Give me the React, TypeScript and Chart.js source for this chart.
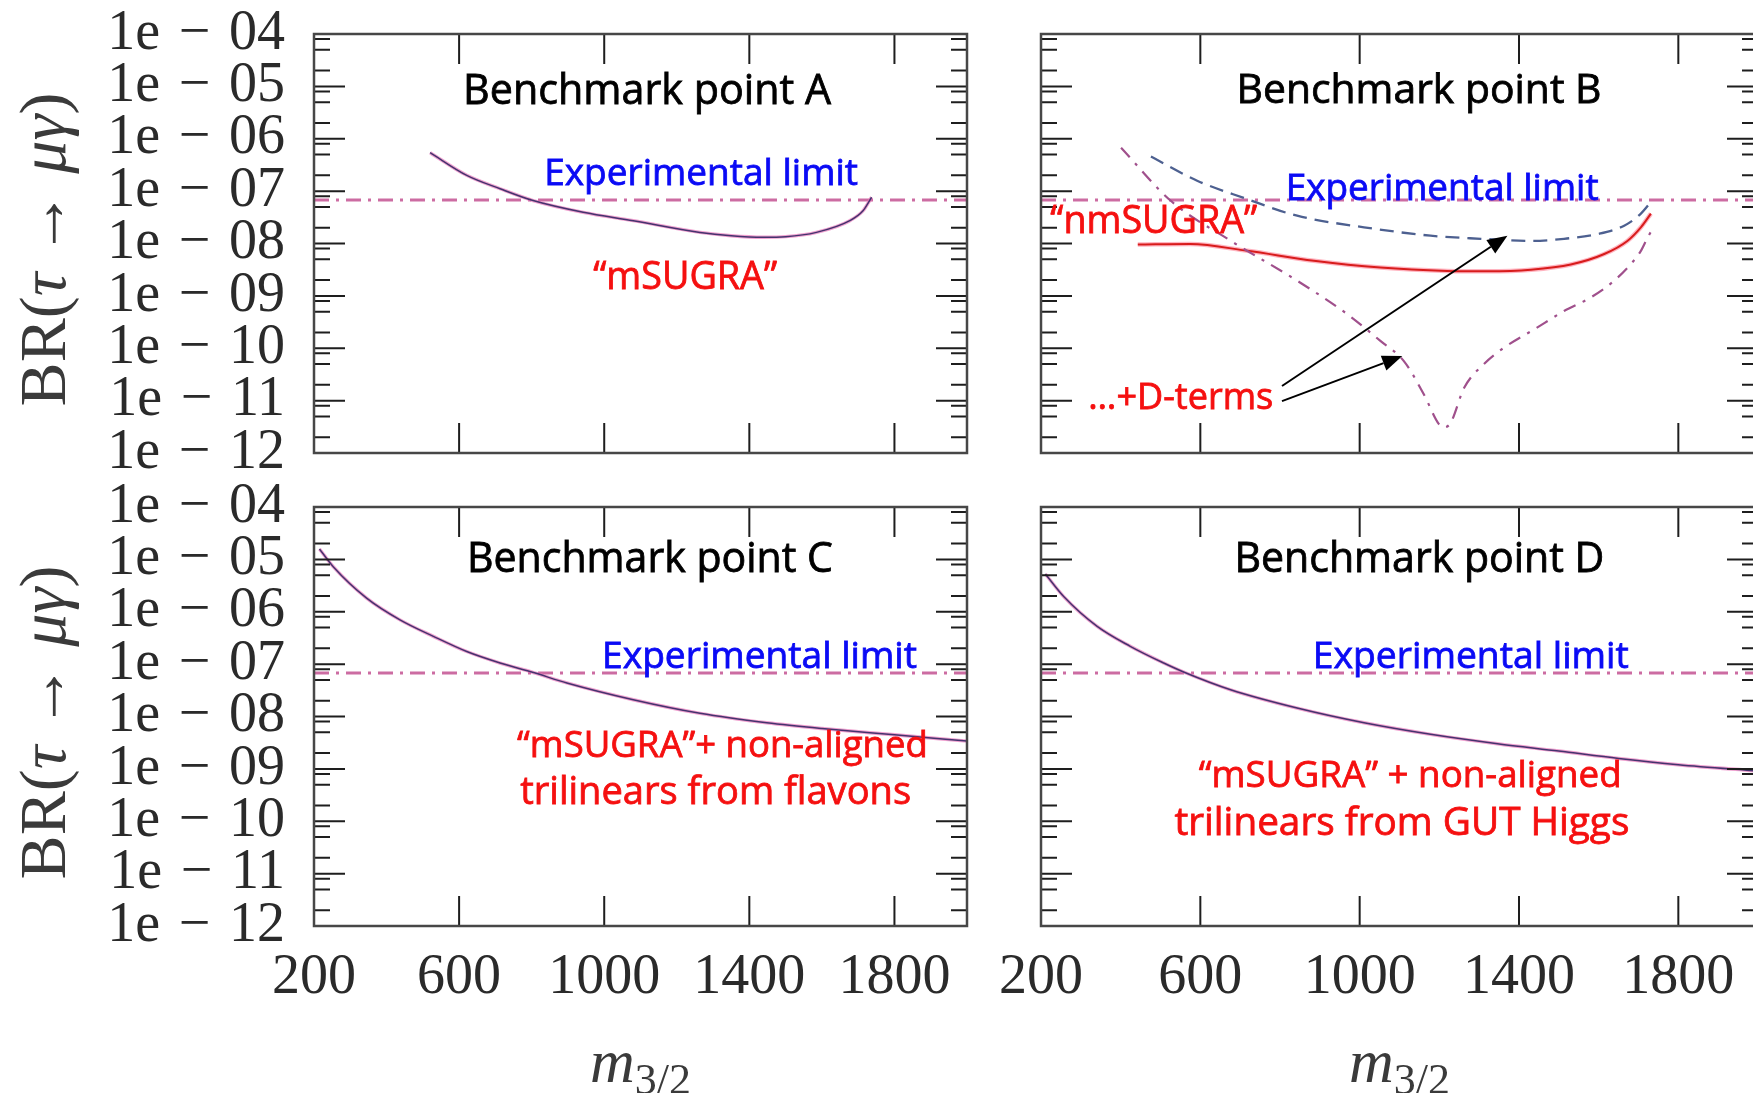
import React, { useEffect, useRef } from 'react';
import { Chart, registerables } from 'chart.js';

Chart.register(...registerables);

// ---------- axes ----------
const X_MIN = 200;
const X_MAX = 2000;
const Y_MIN = 1e-12;
const Y_MAX = 1e-4;
const xTickValues = [200, 600, 1000, 1400, 1800];
const xMajorMarks = [600, 1000, 1400, 1800];
const yDecades = [-12, -11, -10, -9, -8, -7, -6, -5, -4];
const yMinorMantissas = [2, 5, 8];
const experimentalLimit = 6.8e-8;

// ---------- data (m_3/2 , BR) ----------
const aMass = [520, 621, 713, 804, 942, 1080, 1264, 1350, 1438, 1500, 1585, 1677, 1714, 1737];
const aBR = [5.42e-7, 2.0e-7, 1.11e-7, 6.6e-8, 3.94e-8, 2.73e-8, 1.63e-8, 1.41e-8, 1.32e-8, 1.35e-8, 1.63e-8, 2.73e-8, 4.27e-8, 7.64e-8];

const bBlueMass = [476, 592, 709, 843, 1011, 1178, 1304, 1429, 1513, 1597, 1664, 1706, 1735];
const bBlueBR = [4.57e-7, 1.58e-7, 7.41e-8, 3.39e-8, 2.04e-8, 1.41e-8, 1.23e-8, 1.12e-8, 1.23e-8, 1.51e-8, 2.19e-8, 3.72e-8, 6.76e-8];

const bRedMass = [443, 575, 718, 885, 1052, 1220, 1320, 1430, 1530, 1614, 1672, 1706, 1731];
const bRedBR = [9.55e-9, 9.77e-9, 7.24e-9, 4.68e-9, 3.47e-9, 3.0e-9, 2.95e-9, 3.16e-9, 3.98e-9, 6.31e-9, 1.12e-8, 2.04e-8, 3.72e-8];

const bDtermMass = [401, 525, 676, 843, 969, 1052, 1111, 1161, 1199, 1211, 1228, 1262, 1312, 1362, 1438, 1513, 1580, 1639, 1681, 1706, 1722, 1733];
const bDtermBR = [6.76e-7, 6.61e-8, 1.13e-8, 1.95e-9, 4.47e-10, 1.38e-10, 5.69e-11, 1.32e-11, 3.55e-12, 3.09e-12, 3.72e-12, 1.74e-11, 5.01e-11, 1.02e-10, 2.29e-10, 5.13e-10, 9.33e-10, 1.95e-9, 4.07e-9, 7.24e-9, 1.26e-8, 1.78e-8];

const cMass = [215, 253, 345, 437, 529, 621, 713, 805, 897, 1080, 1264, 1448, 1600, 1800, 2000];
const cBR = [1.58e-5, 7.24e-6, 1.82e-6, 7.0e-7, 3.39e-7, 1.74e-7, 1.05e-7, 6.9e-8, 4.37e-8, 2.09e-8, 1.15e-8, 7.59e-9, 5.89e-9, 4.47e-9, 3.39e-9];

const dMass = [211, 257, 341, 424, 508, 558, 676, 843, 1011, 1178, 1346, 1500, 1650, 1800, 2000];
const dBR = [5.25e-6, 1.95e-6, 5.25e-7, 2.19e-7, 1.05e-7, 7.08e-8, 3.24e-8, 1.45e-8, 7.59e-9, 4.57e-9, 3.02e-9, 2.19e-9, 1.58e-9, 1.2e-9, 9.1e-10];

// ---------- styling ----------
const H = 1093;
const TEXT_FONT = '"Open Sans"';
const SERIF = '"Liberation Serif"';
const BLACK = '#000000';
const BLUE = '#0a0af5';
const RED = '#f51010';

const pts = (xs: number[], ys: number[]) => xs.map((x, i) => ({ x, y: ys[i] }));

const limitDataset = () => ({
  data: pts([X_MIN, X_MAX], [experimentalLimit, experimentalLimit]),
  borderColor: 'rgba(198,92,152,0.9)',
  borderWidth: 3,
  borderDash: [15, 7, 3, 7],
  order: 5,
});

const purpleCurve = (xs: number[], ys: number[]) => [
  { data: pts(xs, ys), borderColor: 'rgba(232,120,186,0.7)', borderWidth: 3.4, order: 3 },
  { data: pts(xs, ys), borderColor: '#45336e', borderWidth: 1.5, order: 2 },
];

type TextItem = { t: string; x: number; ly: number; w: number; c: string };
type Arrow = { x1: number; ly1: number; x2: number; ly2: number };
type PanelCfg = {
  id: string;
  canvasW: number;
  left: number;
  right: number;
  top: number;
  bottom: number;
  showX: boolean;
  showY: boolean;
  datasets: any[];
  texts: TextItem[];
  arrows: Arrow[];
};

const panels: PanelCfg[] = [
  {
    id: 'A',
    canvasW: 1753,
    left: 314, right: 967, top: 34, bottom: 453,
    showX: false,
    showY: true,
    datasets: [limitDataset(), ...purpleCurve(aMass, aBR)],
    texts: [
      { t: 'Benchmark point A', x: 1118, ly: -5.34, w: 368, c: BLACK },
      { t: 'Experimental limit', x: 1267, ly: -6.89, w: 314, c: BLUE },
      { t: '\u201CmSUGRA\u201D', x: 1223, ly: -8.87, w: 184, c: RED },
    ],
    arrows: [],
  },
  {
    id: 'B',
    canvasW: 1800,
    left: 1041, right: 1758, top: 34, bottom: 453,
    showX: false,
    showY: false,
    datasets: [
      limitDataset(),
      { data: pts(bBlueMass, bBlueBR), borderColor: '#4d6090', borderWidth: 2.3, borderDash: [14, 8], order: 2 },
      { data: pts(bRedMass, bRedBR), borderColor: 'rgba(255,130,150,0.6)', borderWidth: 4.5, order: 4 },
      { data: pts(bRedMass, bRedBR), borderColor: '#d81c1c', borderWidth: 2, order: 3 },
      { data: pts(bDtermMass, bDtermBR), borderColor: '#a0508c', borderWidth: 2.2, borderDash: [13, 8, 3, 8], order: 1 },
    ],
    texts: [
      { t: 'Benchmark point B', x: 1149, ly: -5.32, w: 365, c: BLACK },
      { t: 'Experimental limit', x: 1207, ly: -7.16, w: 313, c: BLUE },
      { t: '\u201CnmSUGRA\u201D', x: 483, ly: -7.79, w: 207, c: RED },
      { t: '\u2026+D-terms', x: 551, ly: -11.165, w: 185, c: RED },
    ],
    arrows: [
      { x1: 805, ly1: -10.72, x2: 1371, ly2: -7.85 },
      { x1: 805, ly1: -11.01, x2: 1107, ly2: -10.15 },
    ],
  },
  {
    id: 'C',
    canvasW: 1753,
    left: 314, right: 967, top: 507, bottom: 926,
    showX: true,
    showY: true,
    datasets: [limitDataset(), ...purpleCurve(cMass, cBR)],
    texts: [
      { t: 'Benchmark point C', x: 1126, ly: -5.237, w: 366, c: BLACK },
      { t: 'Experimental limit', x: 1428, ly: -7.073, w: 315, c: BLUE },
      { t: '\u201CmSUGRA\u201D+ non-aligned', x: 1326, ly: -8.775, w: 411, c: RED },
      { t: 'trilinears from flavons', x: 1307, ly: -9.674, w: 391, c: RED },
    ],
    arrows: [],
  },
  {
    id: 'D',
    canvasW: 1800,
    left: 1041, right: 1758, top: 507, bottom: 926,
    showX: true,
    showY: false,
    datasets: [limitDataset(), ...purpleCurve(dMass, dBR)],
    texts: [
      { t: 'Benchmark point D', x: 1150, ly: -5.237, w: 370, c: BLACK },
      { t: 'Experimental limit', x: 1279, ly: -7.073, w: 316, c: BLUE },
      { t: '\u201CmSUGRA\u201D + non-aligned', x: 1127, ly: -9.34, w: 423, c: RED },
      { t: 'trilinears from GUT Higgs', x: 1106, ly: -10.26, w: 455, c: RED },
    ],
    arrows: [],
  },
];

type Seg = { t: string; font: string; dy?: number };
function drawRich(ctx: CanvasRenderingContext2D, segs: Seg[], x: number, y: number) {
  let total = 0;
  const widths = segs.map((s) => {
    ctx.font = s.font;
    const w = ctx.measureText(s.t).width;
    total += w;
    return w;
  });
  let cx = x - total / 2;
  ctx.textAlign = 'left';
  ctx.textBaseline = 'alphabetic';
  segs.forEach((s, i) => {
    ctx.font = s.font;
    ctx.fillText(s.t, cx, y + (s.dy || 0));
    cx += widths[i];
  });
}

function makeDecor(cfg: PanelCfg) {
  return {
    id: 'decor' + cfg.id,
    afterDatasetsDraw(chart: any) {
      const ctx: CanvasRenderingContext2D = chart.ctx;
      const { left, right, top, bottom } = chart.chartArea;
      const xs = chart.scales.x;
      const ys = chart.scales.y;
      ctx.save();

      // inward tick marks on all four sides
      ctx.strokeStyle = '#1e1e1e';
      ctx.lineWidth = 2;
      ctx.beginPath();
      for (const d of yDecades) {
        const v = Math.pow(10, d);
        if (v > Y_MIN && v < Y_MAX) {
          const y = ys.getPixelForValue(v);
          ctx.moveTo(left, y); ctx.lineTo(left + 31, y);
          ctx.moveTo(right, y); ctx.lineTo(right - 31, y);
        }
        for (const m of yMinorMantissas) {
          const mv = m * v;
          if (mv <= Y_MIN || mv >= Y_MAX) continue;
          const y = ys.getPixelForValue(mv);
          ctx.moveTo(left, y); ctx.lineTo(left + 16, y);
          ctx.moveTo(right, y); ctx.lineTo(right - 16, y);
        }
      }
      for (const v of xMajorMarks) {
        const x = xs.getPixelForValue(v);
        ctx.moveTo(x, top); ctx.lineTo(x, top + 30);
        ctx.moveTo(x, bottom); ctx.lineTo(x, bottom - 30);
      }
      ctx.stroke();

      // frame
      ctx.strokeStyle = '#474747';
      ctx.lineWidth = 2.5;
      ctx.strokeRect(left, top, right - left, bottom - top);

      // annotations
      for (const tx of cfg.texts) {
        ctx.font = `100px ${TEXT_FONT}`;
        const w = ctx.measureText(tx.t).width;
        const size = (100 * tx.w) / w;
        ctx.font = `${size}px ${TEXT_FONT}`;
        ctx.fillStyle = tx.c;
        ctx.strokeStyle = tx.c;
        ctx.lineWidth = 0.8;
        ctx.textAlign = 'center';
        ctx.textBaseline = 'alphabetic';
        const px = xs.getPixelForValue(tx.x);
        const py = ys.getPixelForValue(Math.pow(10, tx.ly));
        ctx.fillText(tx.t, px, py);
        ctx.strokeText(tx.t, px, py);
      }

      // arrows
      ctx.strokeStyle = '#000';
      ctx.fillStyle = '#000';
      ctx.lineWidth = 2;
      for (const a of cfg.arrows) {
        const x1 = xs.getPixelForValue(a.x1);
        const y1 = ys.getPixelForValue(Math.pow(10, a.ly1));
        const x2 = xs.getPixelForValue(a.x2);
        const y2 = ys.getPixelForValue(Math.pow(10, a.ly2));
        const ang = Math.atan2(y2 - y1, x2 - x1);
        const hl = 20, hw = 8;
        const bx = x2 - hl * Math.cos(ang);
        const by = y2 - hl * Math.sin(ang);
        ctx.beginPath();
        ctx.moveTo(x1, y1);
        ctx.lineTo(bx, by);
        ctx.stroke();
        ctx.beginPath();
        ctx.moveTo(x2, y2);
        ctx.lineTo(bx + hw * Math.sin(ang), by - hw * Math.cos(ang));
        ctx.lineTo(bx - hw * Math.sin(ang), by + hw * Math.cos(ang));
        ctx.closePath();
        ctx.fill();
      }

      // axis titles
      ctx.fillStyle = '#3a3a3a';
      if (cfg.showY) {
        ctx.save();
        ctx.translate(left - 249, (top + bottom) / 2 + 6);
        ctx.rotate(-Math.PI / 2);
        const f = `66px ${SERIF}`;
        const fi = `italic 66px ${SERIF}`;
        drawRich(ctx, [
          { t: 'BR(', font: f },
          { t: '\u03C4', font: fi },
          { t: ' \u2192 ', font: f },
          { t: '\u03BC\u03B3', font: fi },
          { t: ')', font: f },
        ], 0, 0);
        ctx.restore();
      }
      if (cfg.showX) {
        drawRich(ctx, [
          { t: 'm', font: `italic 62px ${SERIF}` },
          { t: '3/2', font: `44px ${SERIF}`, dy: 12 },
        ], (left + right) / 2, bottom + 156);
      }
      ctx.restore();
    },
  };
}

function buildConfig(cfg: PanelCfg): any {
  const datasets = cfg.datasets.map((d) => ({
    pointRadius: 0,
    fill: false,
    cubicInterpolationMode: 'monotone',
    ...d,
  }));
  // y-axis box spans from padLeft to chart-area left; x-axis box spans below chart area
  const yBoxW = cfg.showY ? cfg.left : 0;
  const xBoxH = cfg.showX ? 150 : 0;
  const padding = {
    left: cfg.left - yBoxW,
    right: cfg.canvasW - cfg.right,
    top: cfg.top,
    bottom: H - cfg.bottom - xBoxH,
  };
  const zeroPad = (s: any) => {
    s.paddingTop = 0;
    s.paddingBottom = 0;
    s.paddingLeft = 0;
    s.paddingRight = 0;
  };
  return {
    type: 'line',
    data: { datasets },
    options: {
      responsive: false,
      animation: false,
      devicePixelRatio: 1,
      events: [],
      layout: { padding },
      plugins: { legend: { display: false }, tooltip: { enabled: false }, title: { display: false } },
      scales: {
        x: {
          type: 'linear',
          min: X_MIN,
          max: X_MAX,
          grid: { display: false, drawTicks: false },
          border: { display: false },
          afterFit: (s: any) => { s.height = xBoxH; zeroPad(s); },
          afterBuildTicks: (s: any) => { s.ticks = xTickValues.map((value) => ({ value })); },
          ticks: {
            display: cfg.showX,
            autoSkip: false,
            maxRotation: 0,
            minRotation: 0,
            padding: 19,
            color: '#2a2a2a',
            font: { family: 'Liberation Serif', size: 56 },
            callback: (v: number) => String(v),
          },
        },
        y: {
          type: 'logarithmic',
          min: Y_MIN,
          max: Y_MAX,
          grid: { display: false, drawTicks: false },
          border: { display: false },
          afterFit: (s: any) => { s.width = yBoxW; zeroPad(s); },
          afterBuildTicks: (s: any) => { s.ticks = yDecades.map((d) => ({ value: Math.pow(10, d) })); },
          ticks: {
            display: cfg.showY,
            autoSkip: false,
            padding: 29,
            color: '#2a2a2a',
            font: { family: 'Liberation Serif', size: 56 },
            callback: (v: number) => {
              const e = Math.round(-Math.log10(v));
              return '1e\u2004\u2212\u2004' + String(e).padStart(2, '0');
            },
          },
        },
      },
    },
    plugins: [makeDecor(cfg)],
  };
}

function Panel({ cfg }: { cfg: PanelCfg }) {
  const ref = useRef<HTMLCanvasElement>(null);
  useEffect(() => {
    const chart = new Chart(ref.current as HTMLCanvasElement, buildConfig(cfg));
    return () => chart.destroy();
  }, [cfg]);
  return (
    <canvas
      ref={ref}
      width={cfg.canvasW}
      height={H}
      style={{ position: 'absolute', left: 0, top: 0, width: cfg.canvasW, height: H }}
    />
  );
}

export default function App() {
  return (
    <div
      style={{
        position: 'fixed',
        left: 0,
        top: 0,
        width: 1753,
        height: H,
        overflow: 'hidden',
        background: '#ffffff',
      }}
    >
      {panels.map((p) => (
        <Panel key={p.id} cfg={p} />
      ))}
    </div>
  );
}
